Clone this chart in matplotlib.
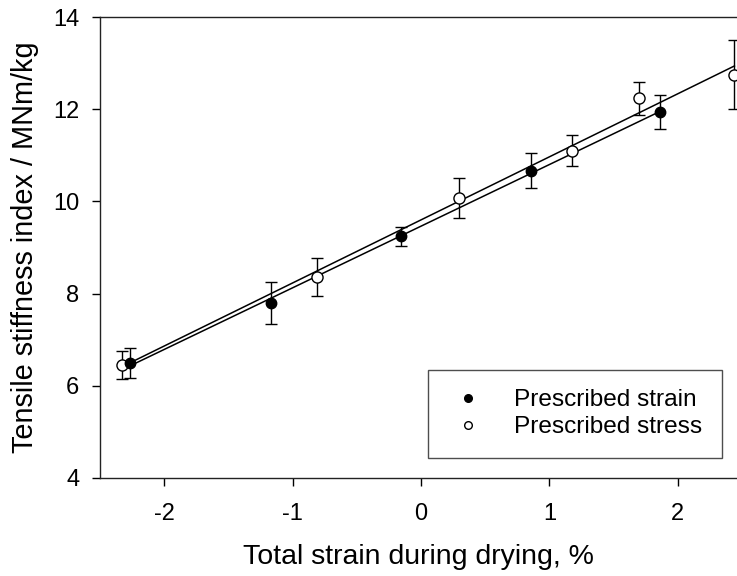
import numpy as np
import matplotlib
matplotlib.use("Agg")
import matplotlib.pyplot as plt
from matplotlib.lines import Line2D

plt.rcParams['font.family'] = ['Liberation Sans', 'DejaVu Sans']

# Prescribed strain (filled)
strain_x = [-2.265, -1.167, -0.158, 0.856, 1.862]
strain_y = [6.50, 7.80, 9.24, 10.67, 11.94]
strain_err = [0.32, 0.45, 0.20, 0.39, 0.36]

# Prescribed stress (open)
stress_x = [-2.33, -0.81, 0.298, 1.173, 1.694, 2.44]
stress_y = [6.45, 8.36, 10.07, 11.10, 12.24, 12.75]
stress_err = [0.30, 0.42, 0.43, 0.34, 0.36, 0.75]

xticks = [-2, -1, 0, 1, 2]
yticks = [4, 6, 8, 10, 12, 14]

fig = plt.figure(figsize=(7.37, 5.76), dpi=100)
ax = fig.add_axes([100/737, 1-478/576, 637/737, 461/576])

for xs, ys in [(strain_x, strain_y), (stress_x, stress_y)]:
    p = np.polyfit(xs, ys, 1)
    xl = np.array([min(xs), max(xs)])
    ax.plot(xl, np.polyval(p, xl), color='black', lw=1.1, zorder=2)

ax.errorbar(stress_x, stress_y, yerr=stress_err, fmt='o', mfc='white', mec='black',
            mew=1.0, ms=8, ecolor='black', elinewidth=1.0, capsize=4.3, capthick=1.0, zorder=3)
ax.errorbar(strain_x, strain_y, yerr=strain_err, fmt='o', mfc='black', mec='black',
            ms=7.5, ecolor='black', elinewidth=1.0, capsize=4.3, capthick=1.0, zorder=4)

ax.set_xlim(-2.5, 2.46)
ax.set_ylim(4, 14)
ax.set_xticks(xticks)
ax.set_xticklabels([str(t) for t in xticks])
ax.set_yticks(yticks)
ax.tick_params(axis='x', direction='out', length=6, width=1, pad=12, labelsize=17)
ax.tick_params(axis='y', direction='out', length=6, width=1, pad=9, labelsize=17)
ax.spines['right'].set_visible(False)
for s in ['left', 'bottom', 'top']:
    ax.spines[s].set_linewidth(1.0)
    ax.spines[s].set_color('#222222')

ax.set_xlabel('Total strain during drying, %', fontsize=20.5, labelpad=14)
ax.set_ylabel('Tensile stiffness index / MNm/kg', fontsize=20.8, labelpad=10)

handles = [Line2D([], [], ls='none', marker='o', mfc='black', mec='black', ms=5.5),
           Line2D([], [], ls='none', marker='o', mfc='white', mec='black', ms=5.5)]
leg = ax.legend(handles, ['Prescribed strain', 'Prescribed stress'], loc='lower right',
                fontsize=17.6, frameon=True, fancybox=False, edgecolor='#222222',
                handletextpad=1.0, borderpad=0.8, labelspacing=0.2, handlelength=1.75,
                borderaxespad=0)
leg.get_frame().set_linewidth(1.0)
leg.set_bbox_to_anchor((622/637, 20/461), transform=ax.transAxes)

fig.savefig('out.png', dpi=100)
